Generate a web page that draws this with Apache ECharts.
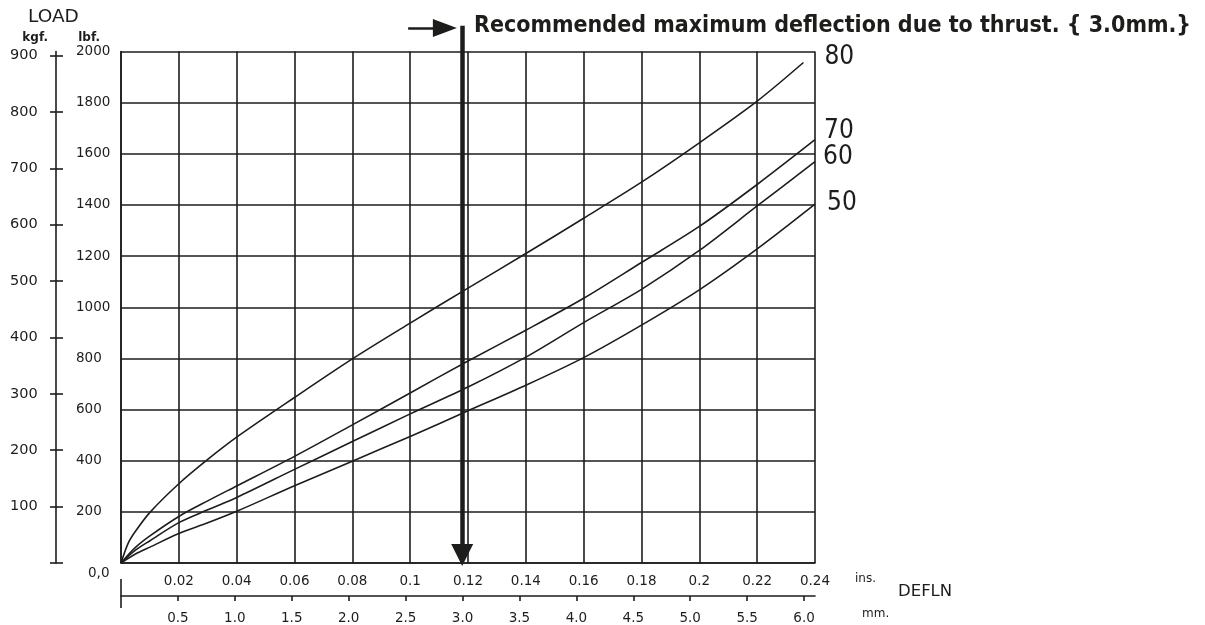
<!DOCTYPE html>
<html>
<head>
<meta charset="utf-8">
<script src="https://cdn.jsdelivr.net/npm/echarts@6/dist/echarts.min.js"></script>
<style>
html,body{margin:0;padding:0;background:#fff;}
#chart{width:1205px;height:625px;}
</style>
</head>
<body>
<div id="chart"></div>
<script>
// ---- data ----
const deflIns80 = [0, 0.0025, 0.005, 0.01, 0.02, 0.03, 0.04, 0.06, 0.08, 0.10, 0.12, 0.14, 0.16, 0.18, 0.20, 0.22, 0.236];
const load80    = [0, 78, 124, 198, 310, 405, 492, 647, 798, 938, 1075, 1210, 1348, 1489, 1643, 1806, 1957];
const deflIns   = [0, 0.005, 0.01, 0.02, 0.03, 0.04, 0.06, 0.08, 0.10, 0.12, 0.14, 0.16, 0.18, 0.20, 0.22, 0.24];
const load70    = [0, 61, 106, 182, 243, 301, 417, 540, 665, 790, 910, 1035, 1175, 1316, 1480, 1655];
const load60    = [0, 50, 87, 158, 208, 256, 366, 475, 583, 688, 805, 940, 1070, 1222, 1396, 1569];
const load50    = [0, 35, 62, 115, 157, 202, 302, 398, 495, 595, 695, 803, 930, 1068, 1228, 1403];
const seriesNames = ['80', '70', '60', '50'];
const insTicks = [0.02, 0.04, 0.06, 0.08, 0.1, 0.12, 0.14, 0.16, 0.18, 0.2, 0.22, 0.24];
const mmTicks = [0.5, 1.0, 1.5, 2.0, 2.5, 3.0, 3.5, 4.0, 4.5, 5.0, 5.5, 6.0];
const kgfTicks = [0, 100, 200, 300, 400, 500, 600, 700, 800, 900];
const kgfLabels = [100, 200, 300, 400, 500, 600, 700, 800, 900];
const recommendedDeflIns = 0.118; // 3.0 mm
const titleText = 'Recommended maximum deflection due to thrust. { 3.0mm.}';

// ---- conversions ----
const LBF_PER_KGF = 2.20462;
const MM_PER_IN = 25.4;
const lbfMax = 2000, insMax = 0.24;

const INK = '#1d1d1b';
const FONT = 'DejaVu Sans';

const chart = echarts.init(document.getElementById('chart'), null, {renderer: 'canvas'});

function zip(xs, ys) { return xs.map((x, i) => [x, ys[i]]); }

const gLeft = 121, gWidth = 694, gTop = 51.5, gHeight = 514.2;
const arrowMax = 2100;
const g2Height = gHeight * arrowMax / lbfMax;
const g2Top = gTop + gHeight - g2Height;

const curveData = [zip(deflIns80, load80), zip(deflIns, load70), zip(deflIns, load60), zip(deflIns, load50)];
const endOffsets = [[21, -5], [9, -8], [8, -4], [12, -1]];

const noZero = {onZero: false};

const option = {
  animation: false,
  backgroundColor: '#fff',
  title: [
    {text: titleText, left: 474, top: 15, padding: 0,
     textStyle: {fontFamily: 'DejaVu Sans Condensed', fontWeight: 'bold', fontSize: 23, color: INK}},
    {text: 'LOAD', left: 28, top: 8, padding: 0,
     textStyle: {fontFamily: FONT, fontWeight: 'normal', fontSize: 18.5, color: INK}},
    {text: 'DEFLN', left: 898, top: 583, padding: 0,
     textStyle: {fontFamily: FONT, fontWeight: 'normal', fontSize: 16.5, color: INK}}
  ],
  grid: [
    {left: gLeft, top: gTop, width: gWidth, height: gHeight, containLabel: false},
    {left: gLeft, top: g2Top, width: gWidth, height: g2Height, containLabel: false}
  ],
  xAxis: [
    { // inches
      type: 'value', gridIndex: 0, min: 0, max: insMax, interval: 0.02,
      axisLine: {show: true, onZero: false, lineStyle: {color: INK, width: 1.6}},
      axisTick: {show: false},
      splitLine: {show: true, lineStyle: {color: INK, width: 1.6}},
      axisLabel: {customValues: insTicks, margin: 11, fontSize: 13.5, fontFamily: FONT, color: INK,
        formatter: v => String(+v.toFixed(2))},
      name: 'ins.', nameLocation: 'end', nameGap: 40,
      nameTextStyle: {fontSize: 12, fontFamily: FONT, color: INK, align: 'left', verticalAlign: 'top', padding: [10, 0, 0, 0]}
    },
    { // millimetres
      type: 'value', gridIndex: 0, position: 'bottom', offset: 33, min: 0, max: insMax * MM_PER_IN, interval: 0.5,
      axisLine: {show: true, onZero: false, lineStyle: {color: INK, width: 1.6}},
      axisTick: {show: true, customValues: mmTicks, length: 5, lineStyle: {color: INK, width: 1.6}},
      splitLine: {show: false},
      axisLabel: {customValues: mmTicks, margin: 15, fontSize: 13.5, fontFamily: FONT, color: INK,
        formatter: v => v.toFixed(1)},
      name: 'mm.', nameLocation: 'end', nameGap: 47,
      nameTextStyle: {fontSize: 12, fontFamily: FONT, color: INK, align: 'left', verticalAlign: 'top', padding: [12, 0, 0, 0]}
    },
    { // zero tick of mm scale (upper part)
      type: 'value', gridIndex: 0, position: 'bottom', offset: 33, min: 0, max: insMax * MM_PER_IN,
      axisLine: {show: false, onZero: false}, splitLine: {show: false}, axisLabel: {show: false},
      axisTick: {show: true, customValues: [0], inside: true, length: 17, lineStyle: {color: INK, width: 1.6}}
    },
    { // zero tick of mm scale (lower part)
      type: 'value', gridIndex: 0, position: 'bottom', offset: 33, min: 0, max: insMax * MM_PER_IN,
      axisLine: {show: false, onZero: false}, splitLine: {show: false}, axisLabel: {show: false},
      axisTick: {show: true, customValues: [0], inside: false, length: 12, lineStyle: {color: INK, width: 1.6}}
    },
    { // annotation grid x
      type: 'value', gridIndex: 1, min: 0, max: insMax, show: false, axisLine: noZero
    }
  ],
  yAxis: [
    { // lbf
      type: 'value', gridIndex: 0, min: 0, max: lbfMax, interval: 200,
      axisLine: {show: true, onZero: false, lineStyle: {color: INK, width: 1.6}},
      axisTick: {show: false},
      splitLine: {show: true, lineStyle: {color: INK, width: 1.6}},
      axisLabel: {align: 'left', margin: 45, fontSize: 13.5, fontFamily: FONT, color: INK,
        formatter: v => v === 0 ? '{z|0,0}' : String(v),
        rich: {z: {fontSize: 13.5, fontFamily: FONT, color: INK, padding: [20, 0, 0, 12]}}},
      name: 'lbf.', nameLocation: 'end', nameGap: 8,
      nameTextStyle: {fontSize: 12, fontWeight: 'bold', fontFamily: FONT, color: INK, align: 'right', verticalAlign: 'bottom', padding: [0, 21, 0, 0]}
    },
    { // kgf
      type: 'value', gridIndex: 0, position: 'left', offset: 65, min: 0, max: lbfMax / LBF_PER_KGF,
      axisLine: {show: true, onZero: false, lineStyle: {color: INK, width: 1.6}},
      axisTick: {show: true, customValues: kgfTicks, length: 6, lineStyle: {color: INK, width: 1.6}},
      splitLine: {show: false},
      axisLabel: {customValues: kgfLabels, align: 'left', margin: 46, fontSize: 14.5, fontFamily: FONT, color: INK},
      name: 'kgf.', nameLocation: 'end', nameGap: 8,
      nameTextStyle: {fontSize: 12, fontWeight: 'bold', fontFamily: FONT, color: INK, align: 'right', verticalAlign: 'bottom', padding: [0, 8, 0, 0]}
    },
    { // kgf inside ticks
      type: 'value', gridIndex: 0, position: 'left', offset: 65, min: 0, max: lbfMax / LBF_PER_KGF,
      axisLine: {show: false, onZero: false}, splitLine: {show: false}, axisLabel: {show: false},
      axisTick: {show: true, customValues: kgfTicks, inside: true, length: 7, lineStyle: {color: INK, width: 1.6}}
    },
    { // annotation grid y
      type: 'value', gridIndex: 1, min: 0, max: arrowMax, show: false, axisLine: noZero
    }
  ],
  series: seriesNames.map((name, i) => ({
    name: name,
    type: 'line',
    xAxisIndex: 0, yAxisIndex: 0,
    data: curveData[i],
    smooth: 0.3,
    symbol: 'none',
    silent: true,
    lineStyle: {color: INK, width: 1.6},
    endLabel: {show: true, formatter: '{a}', distance: 0, offset: endOffsets[i],
      fontSize: 26, fontFamily: "'Liberation Sans Narrow', 'DejaVu Sans Condensed', sans-serif", color: INK}
  })).concat([{
    name: 'annotation',
    type: 'line',
    xAxisIndex: 4, yAxisIndex: 3,
    data: [],
    silent: true,
    markLine: {
      silent: true,
      animation: false,
      label: {show: false},
      data: [
        [{coord: [recommendedDeflIns, arrowMax], symbol: 'none', lineStyle: {color: INK, width: 4.5, type: 'solid'}},
         {coord: [recommendedDeflIns, 42], symbol: 'triangle', symbolSize: [22, 22]}],
        [{coord: [0.0993, 2091], symbol: 'none', lineStyle: {color: INK, width: 2.5, type: 'solid'}},
         {coord: [0.1120, 2091], symbol: 'triangle', symbolSize: [18, 24]}]
      ]
    }
  }])
};

chart.setOption(option);
</script>
</body>
</html>
